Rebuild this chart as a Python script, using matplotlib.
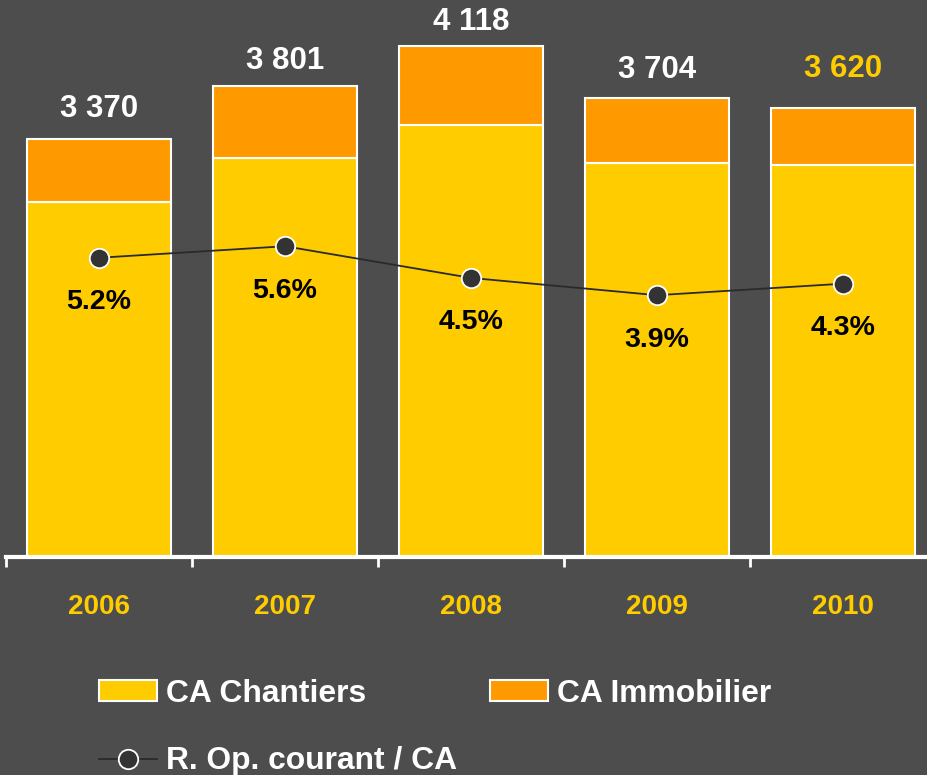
import matplotlib.pyplot as plt
from matplotlib.lines import Line2D
from matplotlib.patches import Patch

years = ['2006', '2007', '2008', '2009', '2010']
chantiers = [2860, 3215, 3480, 3180, 3165]
immobilier = [510, 586, 638, 524, 455]
totals = ['3 370', '3 801', '4 118', '3 704', '3 620']
ratio = [5.2, 5.6, 4.5, 3.9, 4.3]
ratio_labels = ['5.2%', '5.6%', '4.5%', '3.9%', '4.3%']

# label offsets above bar tops (points)
total_offsets = [22, 17.5, 17.5, 20, 28]

bg = '#4d4d4d'
yellow = '#ffcc00'
orange = '#ff9900'

plt.rcParams['font.family'] = ['Liberation Sans', 'DejaVu Sans']
plt.rcParams['font.weight'] = 'bold'

fig = plt.figure(figsize=(9.27, 7.75), dpi=100, facecolor=bg)
W, H = 927, 775
# axes from x=6 to 936 px, y=0 to 557 px (from top)
ax = fig.add_axes([6 / W, 1 - 557 / H, 930 / W, 557 / H])
ax.set_facecolor(bg)

x = range(len(years))
ax.bar(x, chantiers, width=0.774, color=yellow, edgecolor='white', linewidth=1.5, zorder=2)
ax.bar(x, immobilier, width=0.774, bottom=chantiers, color=orange, edgecolor='white',
       linewidth=1.5, zorder=2)
ax.set_xlim(-0.5, 4.5)
ax.set_ylim(0, 4492)

for i in x:
    top = chantiers[i] + immobilier[i]
    col = yellow if i == len(years) - 1 else 'white'
    ax.annotate(totals[i], (i, top), xytext=(0, total_offsets[i]), textcoords='offset points',
                ha='center', va='center', fontsize=22.5, fontweight='bold', color=col)

for s in ['top', 'right', 'left']:
    ax.spines[s].set_visible(False)
ax.spines['bottom'].set_color('white')
ax.spines['bottom'].set_linewidth(3)
ax.spines['bottom'].set_zorder(3)
ax.set_yticks([])

ax.set_xticks(list(x))
ax.set_xticklabels(years, fontsize=20, fontweight='bold', color=yellow)
ax.tick_params(axis='x', which='major', length=0, pad=27)
ax.set_xticks([-0.5, 0.5, 1.5, 2.5, 3.5, 4.5], minor=True)
ax.tick_params(axis='x', which='minor', length=7, width=2, color='white', direction='out')

ax2 = ax.twinx()
ax2.plot(x, ratio, color='#2a2a2a', linewidth=1.3, marker='o', markersize=14,
         markerfacecolor='#333333', markeredgecolor='white', markeredgewidth=1.3, zorder=4)
ax2.set_ylim(-5.19, 14.15)
ax2.axis('off')
for i in x:
    ax2.annotate(ratio_labels[i], (i, ratio[i]), xytext=(0, -32), textcoords='offset points',
                 ha='center', va='center', fontsize=20.5, fontweight='bold', color='black')

handles = [
    Patch(facecolor=yellow, edgecolor='white', linewidth=1.5),
    Line2D([], [], color='#2a2a2a', linewidth=1.3, marker='o', markersize=14,
           markerfacecolor='#333333', markeredgecolor='white', markeredgewidth=1.3),
    Patch(facecolor=orange, edgecolor='white', linewidth=1.5),
]
labels = ['CA Chantiers', 'R. Op. courant / CA', 'CA Immobilier']
leg = fig.legend(handles, labels, ncol=2, loc='upper left',
                 bbox_to_anchor=(99 / W, 1 - 679 / H), frameon=False,
                 prop={'size': 22.9, 'weight': 'bold'}, labelcolor='white',
                 handlelength=1.82, handleheight=0.63, handletextpad=0.28,
                 columnspacing=1.04, labelspacing=1.175, borderpad=0, borderaxespad=0)

fig.savefig('out.png', dpi=100, facecolor=bg)
